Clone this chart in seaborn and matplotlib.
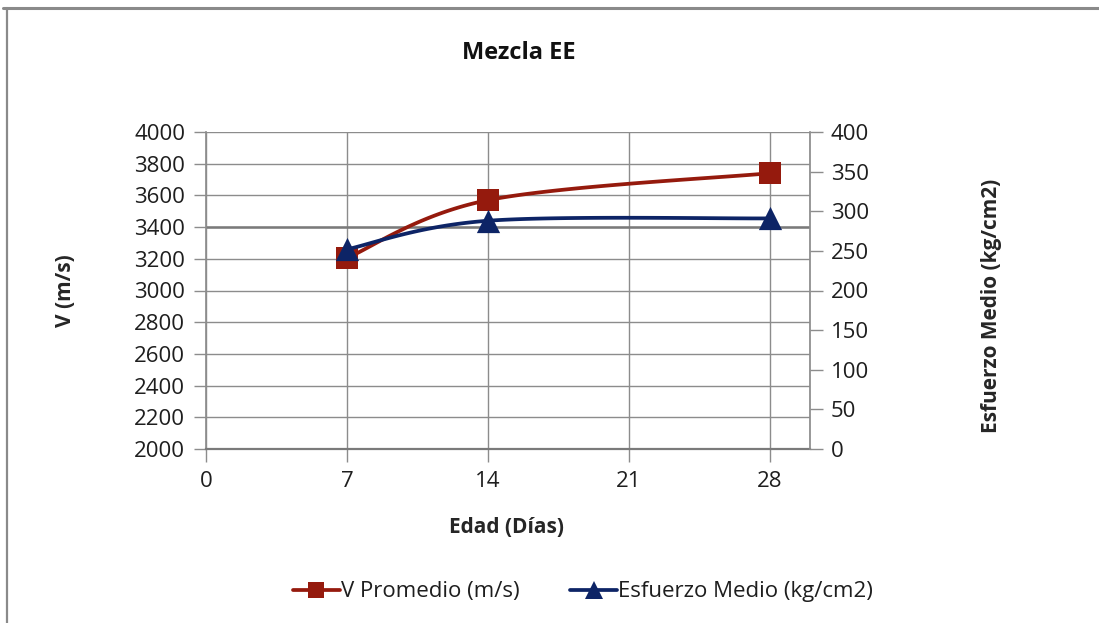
import numpy as np
import pandas as pd
import matplotlib
matplotlib.use("Agg")
import matplotlib.pyplot as plt
from matplotlib.lines import Line2D
import seaborn as sns

# Data
edad_dias = [7, 14, 28]
v_promedio = [3205, 3570, 3740]          # m/s
esfuerzo_medio = [252, 288, 291]         # kg/cm2
x_ticks = [0, 7, 14, 21, 28]
v_ticks = list(range(2000, 4001, 200))
esf_ticks = list(range(0, 401, 50))

RED = "#951A0D"
BLUE = "#0D2466"
GRID = "#8C8C8C"
FONT = ["Open Sans", "DejaVu Sans"]
TICK_FS = 16
LABEL_FS = 15


def smooth_curve(xs, ys, n=60, t=1 / 6):
    """Bezier smoothing through the points (spreadsheet-style smoothed line)."""
    P = np.column_stack([xs, ys]).astype(float)
    k = len(P)
    out = []
    for i in range(k - 1):
        p_prev = P[max(i - 1, 0)]
        p0, p1 = P[i], P[i + 1]
        p_next = P[min(i + 2, k - 1)]
        c1 = p0 + (p1 - p_prev) * t
        c2 = p1 - (p_next - p0) * t
        s = np.linspace(0, 1, n)[:, None]
        seg = ((1 - s) ** 3) * p0 + 3 * ((1 - s) ** 2) * s * c1 + 3 * (1 - s) * s ** 2 * c2 + s ** 3 * p1
        out.append(seg if i == 0 else seg[1:])
    pts = np.vstack(out)
    return pd.DataFrame({"x": pts[:, 0], "y": pts[:, 1]})


sns.set_theme(style="white")
plt.rcParams["font.family"] = FONT

W, H = 1099, 623
fig = plt.figure(figsize=(W / 100, H / 100), dpi=100)
ax = fig.add_axes([206 / W, 1 - 449 / H, (810 - 206) / W, (449 - 132) / H])
ax2 = ax.twinx()

# series
v_curve = smooth_curve(edad_dias, v_promedio)
e_curve = smooth_curve(edad_dias, esfuerzo_medio)
sns.lineplot(data=v_curve, x="x", y="y", ax=ax, color=RED, linewidth=2.7, sort=False,
             estimator=None, zorder=3)
sns.scatterplot(x=edad_dias, y=v_promedio, ax=ax, color=RED, marker="s", s=240,
                linewidth=0, zorder=4)
sns.lineplot(data=e_curve, x="x", y="y", ax=ax2, color=BLUE, linewidth=2.7, sort=False,
             estimator=None, zorder=3)
sns.scatterplot(x=edad_dias, y=esfuerzo_medio, ax=ax2, color=BLUE, marker="^", s=280,
                linewidth=0, zorder=4)

# primary axis: velocity
ax.set_xlim(0, 30)
ax.set_ylim(2000, 4000)
ax.set_xticks(x_ticks)
ax.set_yticks(v_ticks)
ax.grid(True, color=GRID, linewidth=1.0)
ax.axhline(3400, color="#7A7A7A", linewidth=1.8, zorder=1.5)
ax.axvline(30, color=GRID, linewidth=1.0)
for side in ["top", "right"]:
    ax.spines[side].set_visible(False)
ax.spines["left"].set_color(GRID)
ax.spines["bottom"].set_color("#7A7A7A")
ax.spines["bottom"].set_linewidth(1.6)
ax.tick_params(axis="both", which="both", direction="out", length=9, width=1,
               color=GRID, labelsize=TICK_FS, labelcolor="#1E1E1E")
ax.tick_params(axis="y", left=True, pad=6)
ax.tick_params(axis="x", bottom=True, pad=7)

ax.set_xlabel("Edad (Días)", fontsize=LABEL_FS, fontweight="bold")
ax.set_ylabel("V (m/s)", fontsize=LABEL_FS, fontweight="bold")
ax.xaxis.set_label_coords(0.497, -0.215)
ax.yaxis.set_label_coords(-0.215, 0.5)

# secondary axis: stress
ax2.set_ylim(0, 400)
ax2.set_yticks(esf_ticks)
for side in ["top", "left", "bottom"]:
    ax2.spines[side].set_visible(False)
ax2.spines["right"].set_color(GRID)
ax2.tick_params(axis="y", right=True, direction="out", length=9, width=1,
                color=GRID, labelsize=TICK_FS, labelcolor="#1E1E1E", pad=6)
ax2.set_ylabel("Esfuerzo Medio (kg/cm2)", fontsize=LABEL_FS, fontweight="bold")
ax2.yaxis.set_label_coords(1.283, 0.452)
ax2.grid(False)

fig.text(519 / W, 1 - 53 / H, "Mezcla EE", ha="center", va="center",
         fontsize=17, fontweight="bold", color="#111111")

handles = [
    Line2D([], [], color=RED, linewidth=2.7, marker="s", markersize=12, markeredgewidth=0),
    Line2D([], [], color=BLUE, linewidth=2.7, marker="^", markersize=13, markeredgewidth=0),
]
fig.legend(handles, ["V Promedio (m/s)", "Esfuerzo Medio (kg/cm2)"],
           loc="center", bbox_to_anchor=(583 / W, 1 - 592 / H), ncol=2, frameon=False,
           fontsize=16, handlelength=2.1, handletextpad=0.05, columnspacing=2.3,
           labelcolor="#1E1E1E")

# chart frame edges
fig.add_artist(Line2D([3 / W, 1], [1 - 7.5 / H] * 2, color="#8A8A8A", linewidth=2.2,
                      transform=fig.transFigure))
fig.add_artist(Line2D([6.5 / W] * 2, [0, 1 - 7.5 / H], color="#8A8A8A", linewidth=1.6,
                      transform=fig.transFigure))

fig.savefig("out.png", dpi=100, facecolor="white")
